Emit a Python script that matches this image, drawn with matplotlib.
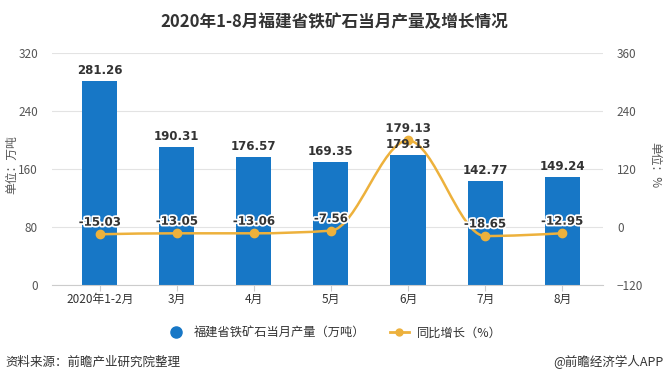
import numpy as np
import matplotlib
matplotlib.use("Agg")
import matplotlib.pyplot as plt
from matplotlib.path import Path
from matplotlib.patches import PathPatch
from matplotlib.lines import Line2D
import matplotlib.patheffects as pe

plt.rcParams['font.family'] = ['Noto Sans CJK SC', 'DejaVu Sans']

months = ["2020年1-2月", "3月", "4月", "5月", "6月", "7月", "8月"]
output = [281.26, 190.31, 176.57, 169.35, 179.13, 142.77, 149.24]
growth = [-15.03, -13.05, -13.06, -7.56, 179.13, -18.65, -12.95]
left_ticks = [0, 80, 160, 240, 320]
right_ticks = [-120, 0, 120, 240, 360]

BLUE = "#1777C6"
GOLD = "#EDB13C"
TXT = "#555555"

W, H = 668, 383
fig = plt.figure(figsize=(W / 100, H / 100), dpi=100)
ax = fig.add_axes([52 / W, (H - 285) / H, (603 - 52) / W, (285 - 53) / H])
ax2 = ax.twinx()

x = np.arange(len(months))
ax.bar(x, output, width=0.455, color=BLUE, zorder=2)

ax.set_xlim(-0.62, 6.53)
ax.set_ylim(0, 320)
ax.set_yticks(left_ticks)
ax.grid(axis="y", color="#e3e3e3", lw=0.8, zorder=0)
ax.set_axisbelow(True)
for s in ["top", "right", "left"]:
    ax.spines[s].set_visible(False)
ax.spines["bottom"].set_color("#cccccc")
ax.tick_params(axis="y", length=0, labelsize=8.5, labelcolor=TXT, pad=10)
ax.tick_params(axis="x", length=4, color="#cccccc", labelsize=8.5, labelcolor="#333333", pad=2)
ax.set_xticks(x)
ax.set_xticklabels(months)

ax2.set_ylim(-120, 360)
ax2.set_yticks(right_ticks)
for s in ax2.spines.values():
    s.set_visible(False)
ax2.tick_params(axis="y", length=0, labelsize=8.5, labelcolor=TXT, pad=10)

# monotone cubic curve through the points (no overshoot)
xs = x.astype(float)
ys = np.array(growth, dtype=float)
h = np.diff(xs)
sl = np.diff(ys) / h
n = len(xs)
t = np.zeros(n)
for i in range(1, n - 1):
    p = (sl[i - 1] * h[i] + sl[i] * h[i - 1]) / (h[i - 1] + h[i])
    t[i] = (np.sign(sl[i - 1]) + np.sign(sl[i])) * min(abs(sl[i - 1]), abs(sl[i]), 0.5 * abs(p))
t[0] = (3 * sl[0] - t[1]) / 2 if n > 2 else sl[0]
t[-1] = (3 * sl[-1] - t[-2]) / 2 if n > 2 else sl[-1]
verts, codes = [(xs[0], ys[0])], [Path.MOVETO]
for i in range(n - 1):
    dx = h[i] / 3
    verts += [(xs[i] + dx, ys[i] + dx * t[i]), (xs[i + 1] - dx, ys[i + 1] - dx * t[i + 1]),
              (xs[i + 1], ys[i + 1])]
    codes += [Path.CURVE4] * 3
ax2.add_patch(PathPatch(Path(verts, codes), fc="none", ec=GOLD, lw=1.8, zorder=3))
ax2.plot(x, growth, "o", color=GOLD, ms=6, zorder=4)
for xi, v in zip(x, growth):
    ax2.annotate(f"{v:.2f}", (xi, v), xytext=(0, 4), textcoords="offset points",
                 ha="center", va="bottom", fontsize=8.5, fontweight="bold", color="#333333",
                 family=["DejaVu Sans"], zorder=5,
                 path_effects=[pe.withStroke(linewidth=2.5, foreground="white")])
for xi, v in zip(x, output):
    ax2.annotate(f"{v:.2f}", (xi, v), xycoords=ax.transData, xytext=(0, 3),
                 textcoords="offset points", ha="center", va="bottom", fontsize=8.5,
                 fontweight="bold", color="#333333", family=["DejaVu Sans"], zorder=6)

fig.text(12 / W, 1 - 165 / H, "单位：万吨", rotation=90, ha="center", va="center",
         fontsize=8.5, color=TXT)
fig.text(655 / W, 1 - 165 / H, "单位：%", rotation=-90, ha="center", va="center",
         fontsize=8.5, color=TXT)

fig.text(0.5, 1 - 22 / H, "2020年1-8月福建省铁矿石当月产量及增长情况", ha="center",
         va="center", fontsize=12, fontweight="bold", color="#333333")

handles = [Line2D([], [], ls="none", marker="o", ms=8, color=BLUE),
           Line2D([], [], color=GOLD, lw=2, marker="o", ms=5)]
fig.legend(handles, ["福建省铁矿石当月产量（万吨）", "同比增长（%）"],
           loc="center", bbox_to_anchor=(0.5, 1 - 333 / H), ncol=2, frameon=False,
           fontsize=8.8, handlelength=1.6, columnspacing=2.0, handletextpad=0.6,
           labelcolor="#333333")

fig.text(5 / W, 1 - 362 / H, "资料来源：前瞻产业研究院整理", ha="left", va="center",
         fontsize=9, color="#333333")
fig.text(664 / W, 1 - 362 / H, "@前瞻经济学人APP", ha="right", va="center",
         fontsize=9, color="#333333")

fig.savefig("out.png", dpi=100)
